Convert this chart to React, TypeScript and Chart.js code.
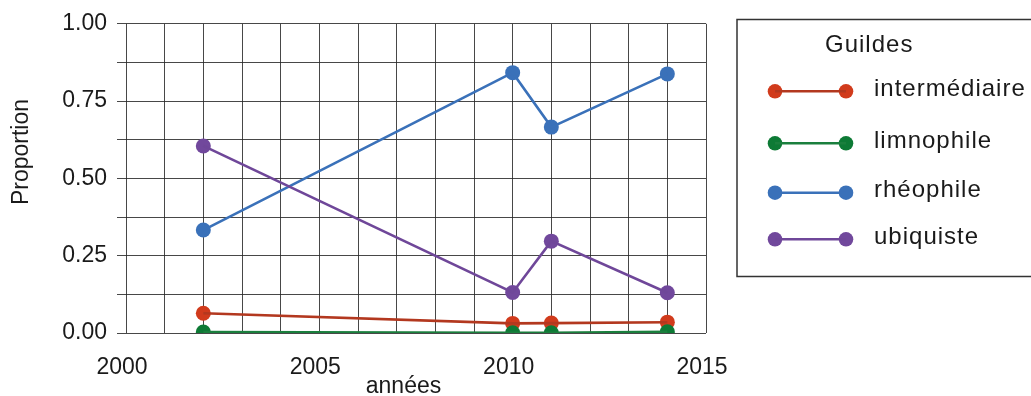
import React, { useEffect, useRef } from "react";
import { Chart, registerables } from "chart.js";

Chart.register(...registerables);

// ---- data ----
const years = [2002, 2010, 2011, 2014];
const seriesNames = ["intermédiaire", "limnophile", "rhéophile", "ubiquiste"];
const intermediaire = [0.064, 0.031, 0.032, 0.035];
const limnophile = [0.003, 0.001, 0.001, 0.004];
const rheophile = [0.333, 0.842, 0.666, 0.838];
const ubiquiste = [0.605, 0.131, 0.297, 0.13];
const seriesValues = [intermediaire, limnophile, rheophile, ubiquiste];
const xLabelYears = [2000, 2005, 2010, 2015];
const yLabelValues = [0, 0.25, 0.5, 0.75, 1];
const xTitle = "années";
const yTitle = "Proportion";
const legendTitle = "Guildes";

// ---- styles ----
const pointColors = ["#D13B1C", "#0D7A35", "#3A71B9", "#71489C"];
const lineColors = ["#B3381F", "#1A7F3D", "#3A71B9", "#6F4799"];
const FONT = "'Liberation Sans', Arial, sans-serif";
const TEXT = "#1a1a1a";
const GRID = "rgba(40,40,40,0.85)";

const overlayPlugin = {
  id: "overlay",
  afterDraw(chart: any) {
    const ctx = chart.ctx as CanvasRenderingContext2D;
    ctx.save();
    // axis titles
    ctx.fillStyle = TEXT;
    ctx.font = `23px ${FONT}`;
    ctx.textAlign = "center";
    ctx.textBaseline = "alphabetic";
    ctx.fillText(xTitle, 403.5, 393);
    ctx.save();
    ctx.translate(28, 152);
    ctx.rotate(-Math.PI / 2);
    ctx.fillText(yTitle, 0, 0);
    ctx.restore();

    // legend box (open on the right, runs off the page)
    ctx.strokeStyle = "#333333";
    ctx.lineWidth = 1.5;
    ctx.beginPath();
    ctx.moveTo(1100, 19.5);
    ctx.lineTo(737, 19.5);
    ctx.lineTo(737, 276.5);
    ctx.lineTo(1100, 276.5);
    ctx.stroke();

    (ctx as any).letterSpacing = "1px";
    ctx.font = `24px ${FONT}`;
    ctx.textAlign = "left";
    ctx.fillStyle = TEXT;
    ctx.fillText(legendTitle, 825, 51.5);

    const itemY = [91.3, 143.3, 192.7, 239.3];
    const lineDs = chart.data.datasets.filter((d: any) => d.isLine);
    lineDs.forEach((ds: any, i: number) => {
      const y = itemY[i];
      ctx.fillStyle = ds.pointFill;
      ctx.beginPath();
      ctx.arc(775, y, 7.3, 0, Math.PI * 2);
      ctx.fill();
      ctx.beginPath();
      ctx.arc(846, y, 7.3, 0, Math.PI * 2);
      ctx.fill();
      ctx.strokeStyle = ds.borderColor;
      ctx.lineWidth = 2.5;
      ctx.beginPath();
      ctx.moveTo(775, y);
      ctx.lineTo(846, y);
      ctx.stroke();
      ctx.fillStyle = TEXT;
      ctx.fillText(ds.label, 874, y + 4.3);
    });
    ctx.restore();
  },
};

export default function App() {
  const ref = useRef<HTMLCanvasElement>(null);
  useEffect(() => {
    document.body.style.margin = "0";
    if (!ref.current) return;
    const pointSets = seriesNames.map((name, i) => ({
      label: name,
      data: years.map((x, j) => ({ x, y: seriesValues[i][j] })),
      showLine: false,
      pointRadius: 7.5,
      pointHoverRadius: 7.5,
      pointBackgroundColor: pointColors[i],
      pointBorderWidth: 0,
      borderColor: pointColors[i],
      backgroundColor: pointColors[i],
      order: 10 - i,
      isLine: false,
    }));
    const lineSets = seriesNames.map((name, i) => ({
      label: name,
      data: years.map((x, j) => ({ x, y: seriesValues[i][j] })),
      showLine: true,
      pointRadius: 0,
      pointHoverRadius: 0,
      borderColor: lineColors[i],
      borderWidth: 2.6,
      backgroundColor: lineColors[i],
      fill: false,
      tension: 0,
      order: 4 - i,
      isLine: true,
      pointFill: pointColors[i],
    }));
    const chart = new Chart(ref.current, {
      type: "line",
      data: { datasets: [...pointSets, ...lineSets] as any },
      options: {
        animation: false,
        responsive: false,
        maintainAspectRatio: false,
        layout: { padding: { top: 22, right: 325, left: 0, bottom: 0 } },
        plugins: { legend: { display: false }, tooltip: { enabled: false } },
        scales: {
          x: {
            type: "linear",
            min: 2000,
            max: 2015,
            border: { display: false },
            grid: { color: GRID, lineWidth: 1, drawTicks: false },
            ticks: {
              stepSize: 1,
              autoSkip: false,
              maxRotation: 0,
              padding: 21,
              labelOffset: -4,
              color: TEXT,
              font: { family: FONT, size: 23 },
              callback: (v: any) => (xLabelYears.includes(Number(v)) ? String(v) : ""),
            },
            afterFit: (s: any) => {
              s.height = 63;
            },
          },
          y: {
            min: 0,
            max: 1,
            border: { display: false },
            grid: { color: GRID, lineWidth: 1, drawTicks: true, tickLength: 9 },
            ticks: {
              stepSize: 0.125,
              autoSkip: false,
              padding: 10,
              color: TEXT,
              font: { family: FONT, size: 23 },
              callback: (v: any) => {
                const n = Number(v);
                return yLabelValues.some((t) => Math.abs(t - n) < 1e-9) ? n.toFixed(2) : "";
              },
            },
            afterFit: (s: any) => {
              s.width = 126;
            },
          },
        },
      } as any,
      plugins: [overlayPlugin],
    });
    return () => chart.destroy();
  }, []);
  return (
    <div style={{ width: 1031, height: 396 }}>
      <canvas ref={ref} width={1031} height={396} style={{ display: "block" }} />
    </div>
  );
}
